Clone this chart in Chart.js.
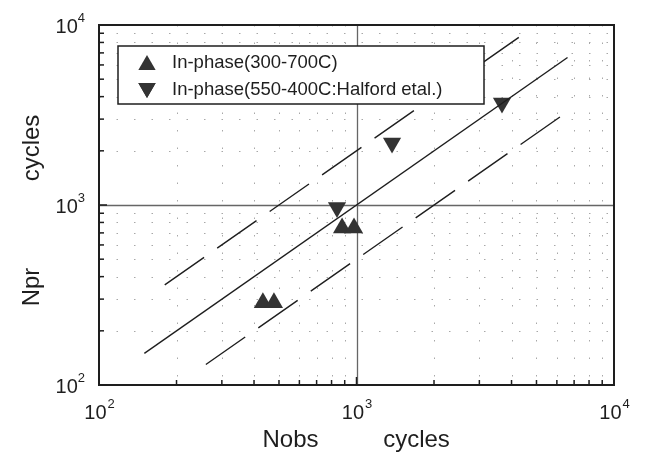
<!DOCTYPE html>
<html>
<head>
<meta charset="utf-8">
<script src="https://cdn.jsdelivr.net/npm/chart.js@4.4.1/dist/chart.umd.min.js"></script>
<style>
  html, body { margin: 0; padding: 0; background: #fff; }
  #wrap { width: 651px; height: 455px; }
</style>
</head>
<body>
<div id="wrap"><canvas id="myChart" width="651" height="455"></canvas></div>
<script>
const upNobs = [433, 478, 879, 978];
const upNpr = [286, 286, 745, 745];
const downNobs = [840, 1374, 3673];
const downNpr = [968, 2210, 3690];

// 1:1 line and factor-of-2 band
const solidNobs = [150, 6600];
const solidNpr = [150, 6600];
const upperNobs = [180, 4400];
const upperNpr = [360, 8800];
const lowerNobs = [260, 6500];
const lowerNpr = [130, 3250];

const tickExps = [2, 3, 4];
const minorMult = [2, 3, 4, 5, 6, 7, 8, 9];

const labelUp = 'In-phase(300-700C)';
const labelDown = 'In-phase(550-400C:Halford etal.)';

const ink = '#1e1e1e';
const markInk = '#333';

const toXY = (xs, ys) => xs.map((x, i) => ({x: x, y: ys[i]}));

const lineSet = (xs, ys, dash) => ({
    type: 'line', data: toXY(xs, ys), borderColor: ink, borderWidth: 1.4,
    borderDash: dash, pointRadius: 0, fill: false, showLine: true
});

const framePlugin = {
    id: 'frame',
    beforeDatasetsDraw(chart) {
        const {ctx, chartArea: a, scales: {x, y}} = chart;
        ctx.save();
        // dotted minor grid (faint, sparse like the scan)
        ctx.strokeStyle = '#a8a8a8';
        ctx.lineWidth = 1;
        ctx.setLineDash([1.5, 16]);
        tickExps.slice(0, -1).forEach(e => {
            minorMult.forEach(m => {
                const v = m * Math.pow(10, e);
                const px = Math.round(x.getPixelForValue(v)) + 0.5;
                ctx.beginPath(); ctx.moveTo(px, a.top); ctx.lineTo(px, a.bottom); ctx.stroke();
                const py = Math.round(y.getPixelForValue(v)) + 0.5;
                ctx.beginPath(); ctx.moveTo(a.left, py); ctx.lineTo(a.right, py); ctx.stroke();
            });
        });
        // solid major grid at 10^3
        ctx.setLineDash([]);
        ctx.strokeStyle = '#666';
        ctx.lineWidth = 1.3;
        tickExps.slice(1, -1).forEach(e => {
            const v = Math.pow(10, e);
            const px = Math.round(x.getPixelForValue(v)) + 0.5;
            ctx.beginPath(); ctx.moveTo(px, a.top); ctx.lineTo(px, a.bottom); ctx.stroke();
            const py = Math.round(y.getPixelForValue(v)) + 0.5;
            ctx.beginPath(); ctx.moveTo(a.left, py); ctx.lineTo(a.right, py); ctx.stroke();
        });
        ctx.restore();
    },
    afterDatasetsDraw(chart) {
        const {ctx, chartArea: a, scales: {x, y}} = chart;
        ctx.save();
        // frame
        ctx.strokeStyle = ink;
        ctx.lineWidth = 2;
        ctx.strokeRect(a.left, a.top, a.right - a.left, a.bottom - a.top);

        // inner ticks on left and bottom
        ctx.lineWidth = 1.5;
        tickExps.slice(0, -1).forEach(e => {
            minorMult.concat([1]).forEach(m => {
                const v = m * Math.pow(10, e);
                const len = m === 1 ? 8 : 5;
                const px = x.getPixelForValue(v);
                ctx.beginPath(); ctx.moveTo(px, a.bottom); ctx.lineTo(px, a.bottom - len); ctx.stroke();
                const py = y.getPixelForValue(v);
                ctx.beginPath(); ctx.moveTo(a.left, py); ctx.lineTo(a.left + len, py); ctx.stroke();
            });
        });

        // tick labels 10^n
        ctx.fillStyle = ink;
        tickExps.forEach(e => {
            const v = Math.pow(10, e);
            const px = x.getPixelForValue(v);
            ctx.font = '20px "Liberation Sans", Arial, sans-serif';
            const w10 = ctx.measureText('10').width;
            ctx.font = '13px "Liberation Sans", Arial, sans-serif';
            const wE = ctx.measureText(String(e)).width;
            const tot = w10 + wE;
            ctx.textBaseline = 'alphabetic';
            ctx.textAlign = 'left';
            ctx.font = '20px "Liberation Sans", Arial, sans-serif';
            ctx.fillText('10', px - tot / 2, a.bottom + 34);
            ctx.font = '13px "Liberation Sans", Arial, sans-serif';
            ctx.fillText(String(e), px - tot / 2 + w10 + 1, a.bottom + 23);

            const py = y.getPixelForValue(v);
            const right = a.left - 14;
            ctx.font = '20px "Liberation Sans", Arial, sans-serif';
            ctx.fillText('10', right - tot, py + 8);
            ctx.font = '13px "Liberation Sans", Arial, sans-serif';
            ctx.fillText(String(e), right - wE, py - 3);
        });

        // axis titles
        ctx.font = '24px "Liberation Sans", Arial, sans-serif';
        ctx.textAlign = 'center';
        ctx.textBaseline = 'middle';
        const cx = (a.left + a.right) / 2;
        ctx.fillText('Nobs', cx - 66, a.bottom + 55);
        ctx.fillText('cycles', cx + 60, a.bottom + 55);
        ctx.save();
        ctx.translate(32, (a.top + a.bottom) / 2);
        ctx.rotate(-Math.PI / 2);
        ctx.fillText('Npr', -82, 0);
        ctx.fillText('cycles', 57, 0);
        ctx.restore();

        // legend box
        const lx = a.left + 19, ly = a.top + 21, lw = 366, lh = 58;
        ctx.fillStyle = '#fff';
        ctx.fillRect(lx, ly, lw, lh);
        ctx.strokeStyle = ink;
        ctx.lineWidth = 1.5;
        ctx.strokeRect(lx, ly, lw, lh);
        const rows = [
            {label: labelUp, rot: 0, yy: ly + 17},
            {label: labelDown, rot: 180, yy: ly + 44}
        ];
        rows.forEach(r => {
            Chart.helpers.drawPoint(ctx, {pointStyle: 'triangle', radius: 10, rotation: r.rot,
                borderWidth: 0}, lx + 29, r.yy + (r.rot ? -2 : 2));
            ctx.fillStyle = markInk;
            ctx.fill();
            ctx.fillStyle = ink;
            ctx.font = '18.5px "Liberation Sans", Arial, sans-serif';
            ctx.textAlign = 'left';
            ctx.textBaseline = 'middle';
            ctx.fillText(r.label, lx + 54, r.yy);
        });
        ctx.restore();
    }
};

const chart = new Chart(document.getElementById('myChart'), {
    type: 'scatter',
    data: {
        datasets: [
            lineSet(solidNobs, solidNpr, []),
            lineSet(upperNobs, upperNpr, [48, 16]),
            lineSet(lowerNobs, lowerNpr, [48, 16]),
            {label: labelUp, data: toXY(upNobs, upNpr), pointStyle: 'triangle', pointRadius: 10.5,
                backgroundColor: markInk, borderColor: markInk, borderWidth: 0},
            {label: labelDown, data: toXY(downNobs, downNpr), pointStyle: 'triangle', pointRotation: 180,
                pointRadius: 10.5, backgroundColor: markInk, borderColor: markInk, borderWidth: 0}
        ]
    },
    options: {
        responsive: false,
        devicePixelRatio: 1,
        animation: false,
        layout: {padding: {left: 99, right: 37, top: 25, bottom: 70}},
        plugins: {legend: {display: false}, tooltip: {enabled: false}},
        scales: {
            x: {type: 'logarithmic', min: 100, max: 10000, display: false},
            y: {type: 'logarithmic', min: 100, max: 10000, display: false}
        }
    },
    plugins: [framePlugin]
});
</script>
</body>
</html>
